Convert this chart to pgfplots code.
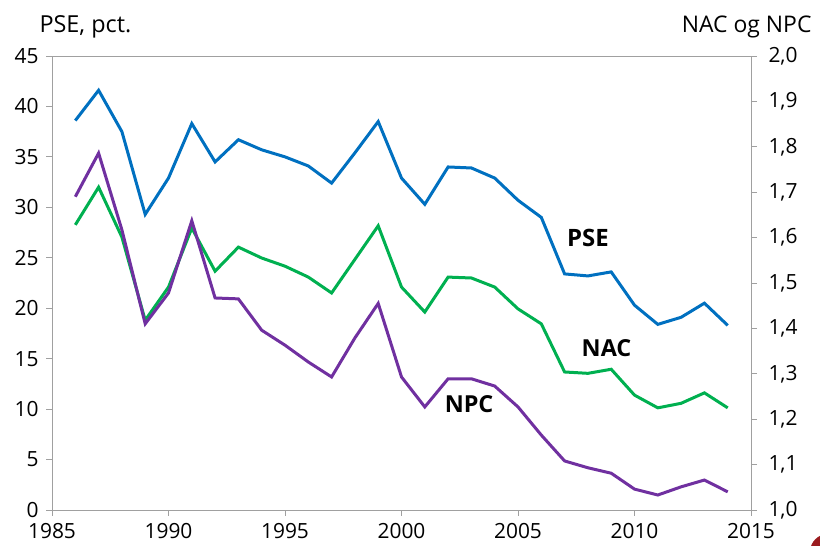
\documentclass[border=0pt]{standalone}
\usepackage{fontspec}
\setmainfont{Open Sans}
\usepackage{pgfplots}
\usepackage{pgfplotstable}
\pgfplotsset{compat=1.18}
\definecolor{pseblue}{RGB}{0,112,192}
\definecolor{nacgreen}{RGB}{0,176,80}
\definecolor{npcpurple}{RGB}{112,48,160}
\definecolor{axisgray}{RGB}{160,160,160}
\definecolor{logored}{RGB}{155,27,31}

\pgfplotstableread{
year pse
1986 38.6
1987 41.6
1988 37.5
1989 29.3
1990 32.9
1991 38.3
1992 34.5
1993 36.7
1994 35.7
1995 35.0
1996 34.1
1997 32.4
1998 35.4
1999 38.5
2000 32.9
2001 30.3
2002 34.0
2003 33.9
2004 32.9
2005 30.7
2006 29.0
2007 23.4
2008 23.2
2009 23.6
2010 20.3
2011 18.4
2012 19.1
2013 20.5
2014 18.3
}\psetable

\pgfplotstableread{
year nac npc
1986 1.628 1.690
1987 1.711 1.786
1988 1.601 1.617
1989 1.418 1.410
1990 1.491 1.478
1991 1.621 1.637
1992 1.526 1.467
1993 1.579 1.465
1994 1.555 1.396
1995 1.537 1.363
1996 1.513 1.326
1997 1.478 1.293
1998 1.552 1.379
1999 1.626 1.455
2000 1.491 1.293
2001 1.436 1.227
2002 1.513 1.289
2003 1.511 1.289
2004 1.491 1.273
2005 1.443 1.227
2006 1.410 1.165
2007 1.304 1.108
2008 1.301 1.093
2009 1.310 1.081
2010 1.253 1.046
2011 1.225 1.033
2012 1.235 1.051
2013 1.258 1.066
2014 1.225 1.040
}\rightable

\begin{document}
\begin{tikzpicture}[x=1bp,y=1bp]
\useasboundingbox (0,0) rectangle (820,546);
\begin{scope}
\clip (0,0) rectangle (820,546);
\fill[logored] (828,-6) circle (18);
\end{scope}
\pgfplotsset{
  every axis/.append style={
    at={(52bp,36bp)}, anchor=south west,
    width=699bp, height=454bp, scale only axis,
    xmin=1985, xmax=2015,
    tick align=outside,
    major tick length=6bp,
    tick style={axisgray, line width=0.8bp},
    axis line style={axisgray, line width=0.8bp},
    tick label style={font=\fontsize{21}{21}\selectfont, text=black},
    /pgf/number format/assume math mode=true,
  }
}
\begin{axis}[
  ymin=0, ymax=45,
  xtick={1985,1990,...,2015},
  ytick={0,5,...,45},
  xtick pos=bottom, ytick pos=left,
  xticklabel style={/pgf/number format/set thousands separator={}},
  xticklabel shift=4bp,
  yticklabel shift=4bp,
]
\addplot[pseblue, line width=3bp] table[x=year, y=pse] {\psetable};
\node[font=\fontsize{24}{24}\selectfont\bfseries] at (axis cs:2008,27) {PSE};
\node[font=\fontsize{23.5}{24}\selectfont\bfseries] at (axis cs:2008.8,16) {NAC};
\node[font=\fontsize{23.5}{24}\selectfont\bfseries] at (axis cs:2002.9,10.5) {NPC};
\end{axis}
\begin{axis}[
  ymin=1, ymax=2,
  axis y line*=right,
  axis x line=none,
  ytick={1,1.1,...,2.01},
  ytick pos=right,
  yticklabel style={/pgf/number format/.cd, use comma, fixed, fixed zerofill, precision=1},
  yticklabel shift=8bp,
]
\addplot[nacgreen, line width=3bp] table[x=year, y=nac] {\rightable};
\addplot[npcpurple, line width=3bp] table[x=year, y=npc] {\rightable};
\end{axis}
\node[anchor=base west, font=\fontsize{23.5}{24}\selectfont] at (36,513) {PSE, pct.};
\node[anchor=base east, font=\fontsize{23}{24}\selectfont] at (815,513) {NAC og NPC};
\end{tikzpicture}
\end{document}
